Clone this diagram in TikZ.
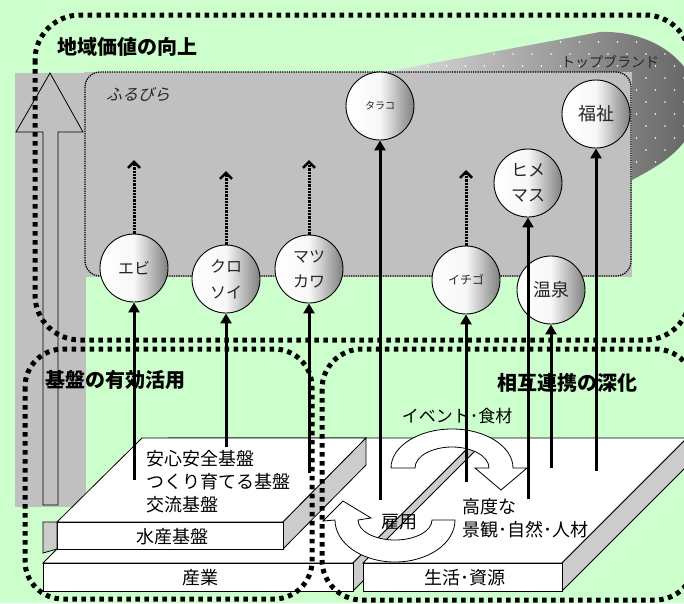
\documentclass[tikz,border=0pt]{standalone}
\usepackage{fontspec}
\setmainfont{Noto Sans CJK JP}
\newfontfamily\jpit{Noto Sans CJK JP}[FakeSlant=0.25]
\usetikzlibrary{arrows.meta}
\definecolor{bggreen}{HTML}{CCFFCC}
\definecolor{panelgray}{HTML}{C0C0C0}
\definecolor{sidegray}{HTML}{CCCCCC}
\tikzset{
  bigdot/.style={line width=5pt, dash pattern=on 4.5pt off 4.5pt},
  circ/.style={circle, draw, line width=0.9pt, minimum size=68pt, inner sep=0pt,
    shading=axis, left color=white, right color=black!50, middle color=black!3,
    align=center, text=black!85},
  uparrow/.style={line width=3pt, -{Triangle[length=10pt,width=11pt]}},
  dotarrow/.style={line width=3pt, dash pattern=on 2.2pt off 1pt,
    -{Straight Barb[length=6pt,width=12pt,line width=2.6pt]}},
  facew/.style={draw, line width=0.8pt, fill=white},
  faceg/.style={draw, line width=0.8pt, fill=sidegray},
  ringarrow/.style={draw, line width=0.8pt, fill=white},
  lbl/.style={font=\fontsize{18}{23}\selectfont, inner sep=0pt},
  title/.style={font=\fontsize{20}{24}\selectfont\bfseries, inner sep=0pt, anchor=west},
}
\begin{document}
\begin{tikzpicture}[x=1pt,y=1pt]
\useasboundingbox (0,0) rectangle (684,-603);
\clip (0,0) rectangle (684,-603);
\fill[bggreen] (0,0) rectangle (684,-603);
% top brand shape
\path[left color=black!12, right color=black!62]
  (385,-72) -- (600,-32) .. controls (660,-30) and (702,-70) .. (697,-110)
  .. controls (692,-148) and (660,-165) .. (632,-180) -- (632,-72) -- cycle;
\begin{scope}
  \clip (385,-72) -- (600,-32) .. controls (660,-30) and (702,-70) .. (697,-110)
  .. controls (692,-148) and (660,-165) .. (632,-180) -- (632,-72) -- cycle;
  \foreach \r in {0,...,13} {
    \foreach \c in {0,...,17} {
      \fill[white] ({380+19*\c+mod(\r,2)*9.5},{-(30+12*\r)}) circle (0.8);
    }
  }
\end{scope}
% gray panels
\fill[panelgray] (15,-73) rectangle (86,-507);
\fill[panelgray] (84,-72) rectangle (632,-277);
\node[font=\fontsize{14}{14}\selectfont, text=black!85, inner sep=0pt] (brand) at (610,-62) {トップブランド};
\draw[line width=1.3pt, densely dotted, rounded corners=15pt] (85,-72) rectangle (631,-276);
\node[font=\jpit\fontsize{16}{16}\selectfont, anchor=west, inner sep=0pt, text=black!85] (furu) at (106,-94) {ふるびら};
% hollow big arrow
\draw[fill=panelgray, line width=0.8pt] (43,-505) -- (43,-132) -- (16,-132) -- (50,-73)
  -- (83,-132) -- (58,-132) -- (58,-505) -- cycle;
% slab: sangyo
\draw[facew] (43,-563) -- (353,-563) -- (478,-438) -- (168,-438) -- cycle;
\draw[faceg] (353,-563) -- (478,-438) -- (478,-466) -- (353,-591) -- cycle;
\draw[facew] (43,-563) rectangle (353,-591);
% slab: seikatsu
\draw[facew] (363,-563) -- (562,-563) -- (687,-438) -- (488,-438) -- cycle;
\draw[faceg] (562,-563) -- (687,-438) -- (687,-466) -- (562,-591) -- cycle;
\draw[facew] (363,-563) rectangle (562,-591);
% slab: suisan
\draw[facew] (57,-522) -- (283,-522) -- (366,-438) -- (142,-438) -- cycle;
\draw[faceg] (283,-522) -- (366,-438) -- (366,-465) -- (283,-549) -- cycle;
\draw[facew] (57,-522) rectangle (283,-549);
\draw[faceg] (43,-522) -- (57,-522) -- (57,-549) -- (43,-553) -- cycle;
% ring arrows
\draw[ringarrow] (391,-468) arc[start angle=180, end angle=0, x radius=61, y radius=39]
  -- (527,-468) -- (501,-490) -- (475,-468) -- (489,-468)
  arc[start angle=0, end angle=180, x radius=37, y radius=21] -- cycle;
\draw[ringarrow] (455,-520) arc[start angle=0, end angle=-180, x radius=60, y radius=42]
  -- (323,-521) -- (343,-501) -- (371,-518) -- (358,-520)
  arc[start angle=180, end angle=360, x radius=37, y radius=20] -- cycle;
% slab texts
\node[lbl, anchor=west, align=left] (kiban) at (146,-482) {安心安全基盤\\つくり育てる基盤\\交流基盤};
\node[lbl] (suisan) at (172,-537) {水産基盤};
\node[lbl] (sangyo) at (200,-578) {産業};
\node[lbl] (seikatsu) at (465,-578) {生活･資源};
\node[lbl, anchor=west, align=left] (kodo) at (462,-518) {高度な\\景観･自然･人材};
\node[lbl, font=\fontsize{17}{20}\selectfont] (event) at (457,-416) {イベント･食材};
\node[lbl] (koyo) at (399,-522) {雇用};
% circles
\node[circ, font=\fontsize{16}{24}\selectfont] (ebi) at (134,-268) {エビ};
\node[circ, font=\fontsize{16}{26}\selectfont] (kuro) at (226,-279) {クロ\\ソイ};
\node[circ, font=\fontsize{16}{25}\selectfont] (matsu) at (309,-269) {マツ\\カワ};
\node[circ, font=\fontsize{10}{12}\selectfont] (tara) at (380,-106) {タラコ};
\node[circ, font=\fontsize{12}{14}\selectfont] (ichi) at (466,-280) {イチゴ};
\node[circ, font=\fontsize{18}{20}\selectfont] (onsen) at (551,-290) {温泉};
\node[circ, font=\fontsize{17}{25}\selectfont] (hime) at (528,-183) {ヒメ\\マス};
\node[circ, font=\fontsize{18}{20}\selectfont] (fuku) at (596,-114) {福祉};
% arrow end points
\coordinate (ebiS) at (134,-480);
\coordinate (kuroS) at (226,-447);
\coordinate (matsuS) at (309,-473);
\coordinate (taraS) at (380,-500);
\coordinate (ichiS) at (466,-482);
\coordinate (himeS) at (528,-499);
\coordinate (onsenS) at (551,-468);
\coordinate (fukuS) at (596,-471);
\coordinate (ebiT) at (134,-160);
\coordinate (kuroT) at (226,-171);
\coordinate (matsuT) at (309,-160);
\coordinate (ichiT) at (466,-170);
% arrows
\draw[uparrow] (ebiS) -- (ebi.south);
\draw[uparrow] (kuroS) -- (kuro.south);
\draw[uparrow] (matsuS) -- (matsu.south);
\draw[uparrow] (taraS) -- (tara.south);
\draw[uparrow] (ichiS) -- (ichi.south);
\draw[uparrow] (himeS) -- (hime.south);
\draw[uparrow] (onsenS) -- (onsen.south);
\draw[uparrow] (fukuS) -- (fuku.south);
\draw[dotarrow] (ebi.north) -- (ebiT);
\draw[dotarrow] (kuro.north) -- (kuroT);
\draw[dotarrow] (matsu.north) -- (matsuT);
\draw[dotarrow] (ichi.north) -- (ichiT);
% big dotted outlines
\draw[bigdot, rounded corners=45pt] (35,-15) rectangle (690,-340);
\draw[bigdot, rounded corners=38pt] (25,-349) rectangle (312,-599);
\draw[bigdot, rounded corners=40pt] (322,-349) rectangle (695,-600);
% titles
\node[title] (t1) at (57,-47) {地域価値の向上};
\node[title] (t2) at (45,-380) {基盤の有効活用};
\node[title] (t3) at (497,-383) {相互連携の深化};
\end{tikzpicture}
\end{document}
